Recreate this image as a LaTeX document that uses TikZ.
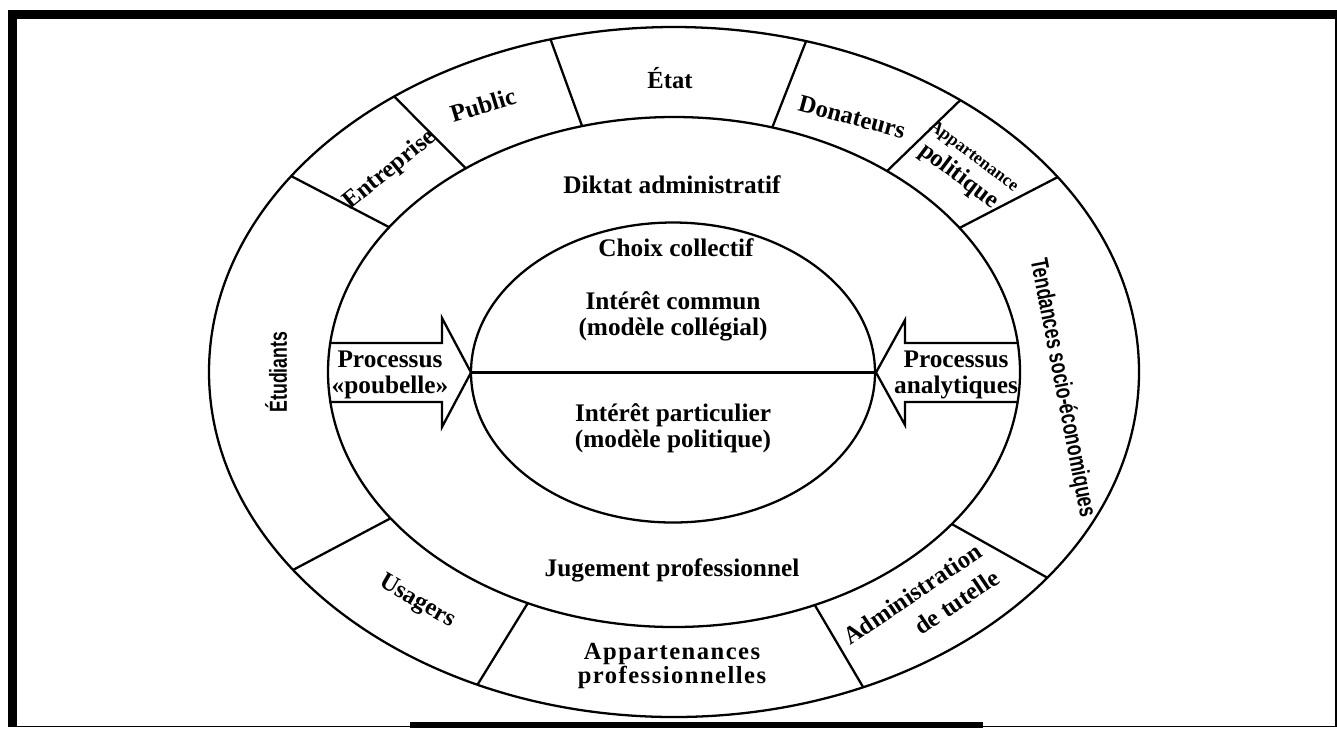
\documentclass[tikz,border=0pt]{standalone}
\usepackage{fontspec}
\setmainfont{Liberation Serif}
\setsansfont{Liberation Sans}
\usetikzlibrary{calc}
\newcommand{\ringwidth}{1.3pt}
\newcommand{\smallapp}{\fontsize{10pt}{12pt}\selectfont}

\begin{document}
\begin{tikzpicture}[x=0.02cm, y=-0.02cm,
    ring/.style={line width=\ringwidth},
    lab/.style={font=\bfseries\fontsize{14pt}{15pt}\selectfont, align=center, inner sep=0pt},
    big/.style={font=\bfseries\fontsize{14.4pt}{14.8pt}\selectfont, align=center, inner sep=0pt},
    narrow/.style={font=\sffamily\bfseries\fontsize{14pt}{15pt}\selectfont, inner sep=0pt, xscale=0.72}]
  %\draw[help lines] (0,0) grid (1337,728);
  \useasboundingbox (0,0) rectangle (1337,728);
  % frame
  \fill (8,10) rectangle (17,727);
  \fill (8,10) rectangle (1337,19);
  \fill (410,722) rectangle (983,728);
  \draw[line width=0.6pt] (17,726.5) -- (1336,726.5) -- (1336,19);
  % rings
  \coordinate (c) at (674,372);
  \draw[ring] (c) ellipse [x radius=465, y radius=345];
  \draw[ring] (c) ellipse [x radius=346, y radius=255];
  \draw[ring] (673,372.5) ellipse [x radius=202, y radius=150];
  \foreach \t in {145.4,127,105.4,73.5,52,34.4,-36.6,-66,-115,-145}
    \draw[ring] ($(c)+({465*cos(\t)},{-345*sin(\t)})$) -- ($(c)+({346*cos(\t)},{-255*sin(\t)})$);
  \draw[ring] (471,372.5) -- (875,372.5);
  % arrows
  \draw[ring, line join=miter] (329.3,343) -- (442,343) -- (442,318) -- (471,372.5)
    -- (442,427) -- (442,402) -- (329.3,402);
  \draw[ring, line join=miter] (1018,343) -- (905,343) -- (905,320) -- (876,372.5)
    -- (905,425) -- (905,402) -- (1018,402);
  % centre texts
  \node[big] (diktat) at (672,185) {Diktat administratif};
  \node[big] (choix) at (676,248) {Choix collectif};
  \node[big] (commun) at (673,316) {Intérêt commun\\(modèle collégial)};
  \node[big] (partic) at (673,428) {Intérêt particulier\\(modèle politique)};
  \node[big] (jugement) at (672,570) {Jugement professionnel};
  \node[big] (poubelle) at (390,375) {Processus\\«poubelle»};
  \node[big] (analyt) at (956,375) {Processus\\analytiques};
  % ring texts
  \node[rotate=90, narrow] (etudiants) at (276,372) {Étudiants};
  \node[lab, rotate=39] (entreprise) at (390,170) {Entreprise};
  \node[lab, rotate=17] (public) at (483,105) {Public};
  \node[lab] (etat) at (670,78) {État};
  \node[lab, rotate=-15] (donateurs) at (852,117) {Donateurs};
  \node[lab, rotate=-37] (politique) at (965,168) {{\smallapp Appartenance}\\politique};
  \node[rotate=-79, narrow] (tendances) at (1062,388) {Tendances socio-économiques};
  \node[lab, rotate=-30] (usagers) at (417,602) {Usagers};
  \node[lab, font=\bfseries\fontsize{14pt}{12pt}\selectfont\addfontfeature{LetterSpace=6}] (apppro) at (672,666) {Appartenances\\professionnelles};
  \node[lab, rotate=34, align=right, font=\bfseries\fontsize{14pt}{18pt}\selectfont] (tutelle) at (921,607) {Administration\\de tutelle};
\end{tikzpicture}
\end{document}
